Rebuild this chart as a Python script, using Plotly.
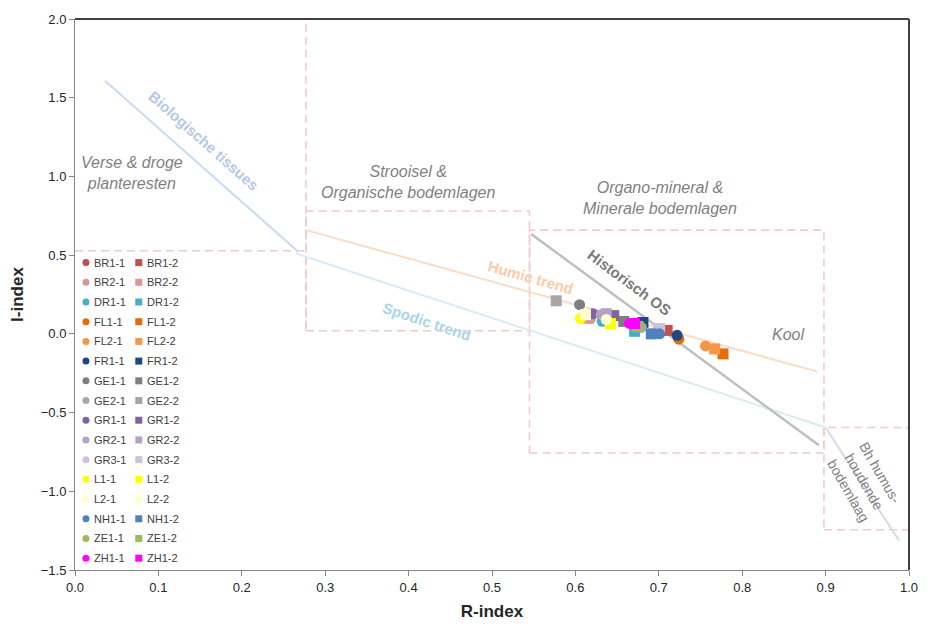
import plotly.graph_objects as go

FONT = "Arial, Liberation Sans, sans-serif"

# Sample series: "-1" samples are drawn as circles, "-2" samples as squares
series = ["BR1", "BR2", "DR1", "FL1", "FL2", "FR1", "GE1", "GE2",
          "GR1", "GR2", "GR3", "L1", "L2", "NH1", "ZE1", "ZH1"]
colors = ["#c0504d", "#d99694", "#4bacc6", "#e46c0a", "#f79646", "#1f497d",
          "#7f7f7f", "#a6a6a6", "#8064a2", "#b3a2c7", "#ccc1da", "#ffff00",
          "#ffffcc", "#4f81bd", "#9bbb59", "#ff00ff"]

# R-index / I-index of the "-1" samples
r_1 = [0.705, 0.618, 0.632, 0.724, 0.756, 0.722, 0.605, 0.679,
       0.621, 0.631, 0.699, 0.606, 0.637, 0.701, 1.005, 0.665]
i_1 = [0.025, 0.097, 0.080, -0.034, -0.077, -0.009, 0.185, 0.041,
       0.128, 0.122, 0.029, 0.097, 0.091, 0.000, 0.072, 0.066]
# R-index / I-index of the "-2" samples
r_2 = [0.710, 0.615, 0.671, 0.777, 0.767, 0.681, 0.658, 0.577,
       0.646, 0.637, 0.701, 0.642, 0.612, 0.691, 0.675, 0.671]
i_2 = [0.022, 0.100, 0.016, -0.127, -0.096, 0.072, 0.079, 0.210,
       0.116, 0.128, 0.035, 0.066, 0.122, 0.000, 0.047, 0.066]

# Reference trends (R, I end points)
bio_r, bio_i = [0.036, 0.268], [1.607, 0.520]
spodic_r, spodic_i = [0.265, 0.900], [0.510, -0.595]
bh_r, bh_i = [0.900, 0.988], [-0.595, -1.313]
humic_r, humic_i = [0.277, 0.890], [0.659, -0.240]
hist_r, hist_i = [0.547, 0.892], [0.634, -0.708]

# Zones (R0, R1, I0, I1)
zone_strooisel = (0.277, 0.545, 0.020, 0.780)
zone_mineral = (0.545, 0.898, -0.757, 0.659)
zone_bh = (0.898, 1.0, -1.244, -0.595)
zone_fresh_I = 0.528

fig = go.Figure()

trend_styles = [
    (bio_r, bio_i, "#c9dbf0", 2),
    (spodic_r, spodic_i, "#d8ecf3", 2),
    (bh_r, bh_i, "#dcd6ec", 2),
    (humic_r, humic_i, "#fbdcc4", 2),
    (hist_r, hist_i, "#bfbfbf", 2.5),
]
for xs, ys, col, w in trend_styles:
    fig.add_trace(go.Scatter(x=xs, y=ys, mode="lines", line=dict(color=col, width=w),
                             hoverinfo="skip", showlegend=False))

for k, name in enumerate(series):
    fig.add_trace(go.Scatter(x=[r_1[k]], y=[i_1[k]], mode="markers", name=f"{name}-1",
                             marker=dict(symbol="circle", size=11, color=colors[k], line=dict(width=0)),
                             cliponaxis=False, showlegend=False))
    fig.add_trace(go.Scatter(x=[r_2[k]], y=[i_2[k]], mode="markers", name=f"{name}-2",
                             marker=dict(symbol="square", size=11, color=colors[k], line=dict(width=0)),
                             cliponaxis=False, showlegend=False))

# Two-column key in the lower left of the plot area (overlay axes in pixel/row units)
rows = list(range(len(series)))
fig.add_trace(go.Scatter(x=[11] * len(series), y=rows, xaxis="x2", yaxis="y2", mode="markers",
                         marker=dict(symbol="circle", size=7, color=colors), hoverinfo="skip",
                         showlegend=False))
fig.add_trace(go.Scatter(x=[64] * len(series), y=rows, xaxis="x2", yaxis="y2", mode="markers",
                         marker=dict(symbol="square", size=7, color=colors), hoverinfo="skip",
                         showlegend=False))

annotations = []
for k, name in enumerate(series):
    for xx, suffix in ((17, "-1"), (70, "-2")):
        annotations.append(dict(x=xx, y=k, xref="x2", yref="y2", text=name + suffix,
                                showarrow=False, xanchor="left", yanchor="middle",
                                font=dict(family=FONT, size=11, color="#404040")))

grey = "#7f7f7f"
def label(x, y, text, size=16, color=grey, italic=True, bold=False, angle=0):
    annotations.append(dict(
        x=x, y=y, xref="x", yref="y", text=text, showarrow=False, textangle=angle,
        xanchor="center", yanchor="middle",
        font=dict(family=FONT, size=size, color=color,
                  style="italic" if italic else "normal",
                  weight="bold" if bold else "normal")))

label(0.068, 1.02, "Verse & droge<br>planteresten")
label(0.399, 0.963, "Strooisel &<br>Organische bodemlagen")
label(0.702, 0.866, "Organo-mineral &<br>Minerale bodemlagen")
label(0.855, -0.003, "Kool")
label(0.154, 1.226, "Biologische tissues", size=15, color="#b4c8e6", italic=False, bold=True, angle=41.6)
label(0.547, 0.359, "Humic trend", size=15, color="#f9cba6", italic=False, bold=True, angle=15.7)
label(0.422, 0.079, "Spodic trend", size=15, color="#a9d6e4", italic=False, bold=True, angle=18.2)
label(0.665, 0.328, "Historisch OS", size=15, color="#7a7a7a", italic=False, bold=True, angle=36.6)
label(0.947, -0.938, "Bh humus-<br>houdende<br>bodemlaag", size=14, color="#808080",
      italic=False, angle=60)

dash_col = "#f3caca"
dash = dict(color=dash_col, width=1.6, dash="8px,5px")
shapes = []
for (x0, x1, y0, y1) in (zone_strooisel, zone_mineral, zone_bh):
    shapes.append(dict(type="rect", xref="x", yref="y", x0=x0, x1=x1, y0=y0, y1=y1,
                       line=dash, layer="below"))
shapes.append(dict(type="line", xref="x", yref="y", x0=0, x1=zone_strooisel[0],
                   y0=zone_fresh_I, y1=zone_fresh_I, line=dash, layer="below"))
shapes.append(dict(type="line", xref="x", yref="y", x0=zone_strooisel[0], x1=zone_strooisel[0],
                   y0=zone_strooisel[2], y1=1.98, line=dash, layer="below"))
# dark frame on top and right of the plot area
shapes.append(dict(type="line", xref="paper", yref="paper", x0=0, x1=1, y0=1, y1=1,
                   line=dict(color="#404040", width=2)))
shapes.append(dict(type="line", xref="paper", yref="paper", x0=1, x1=1, y0=0, y1=1,
                   line=dict(color="#404040", width=2)))

axis_common = dict(showgrid=False, zeroline=False, showline=True, linecolor="#868686",
                   linewidth=1, ticks="outside", ticklen=5, tickcolor="#868686",
                   tickformat=".1f", tickfont=dict(family=FONT, size=13, color="#262626"))

fig.update_layout(
    width=930, height=629,
    margin=dict(l=75, r=18, t=17, b=51),
    paper_bgcolor="white", plot_bgcolor="white",
    showlegend=False,
    xaxis=dict(range=[0, 1], dtick=0.1, tick0=0,
               title=dict(text="R-index", standoff=11,
                          font=dict(family=FONT, size=17, color="#262626", weight="bold")),
               **axis_common),
    yaxis=dict(range=[-1.5, 2.0], dtick=0.5, tick0=0,
               title=dict(text="I-index", standoff=12,
                          font=dict(family=FONT, size=17, color="#262626", weight="bold")),
               **axis_common),
    xaxis2=dict(overlaying="x", range=[0, 837], visible=False),
    yaxis2=dict(overlaying="y", range=[15.6, -12.36], visible=False),
    annotations=annotations,
    shapes=shapes,
)

fig.write_html("out.html")
